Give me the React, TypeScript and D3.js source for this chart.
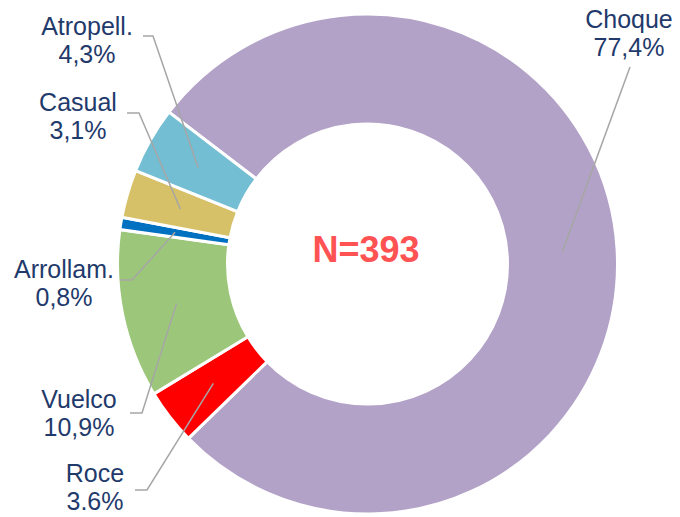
import React from "react";
import { pie, arc } from "d3";

const categories = ["Choque", "Roce", "Vuelco", "Arrollam.", "Casual", "Atropell."];
const shares = [77.4, 3.6, 10.9, 0.8, 3.1, 4.3];
const shareLabels = ["77,4%", "3.6%", "10,9%", "0,8%", "3,1%", "4,3%"];
const colors = ["#B3A2C7", "#FF0000", "#9CC77B", "#0070C0", "#D6C068", "#73BED3"];
const totalN = 393;

// label anchor (text centre, first baseline) and leader-line start, per slice
const labelLayout = [
  { x: 629, y: 28, lx: 630, ly: 67, elbow: 0 },
  { x: 95, y: 482, lx: 135, ly: 490, elbow: 12 },
  { x: 79, y: 408, lx: 130, ly: 413, elbow: 12 },
  { x: 64, y: 278, lx: 120, ly: 280, elbow: 12 },
  { x: 78, y: 111, lx: 127, ly: 113, elbow: 12 },
  { x: 87, y: 35, lx: 143, ly: 36, elbow: 10 },
];

const width = 680;
const height = 517;
const cx = 367.5;
const cy = 264;
const outerR = 250;
const innerR = 140;
const startDeg = -52.6;

const App = () => {
  const slices = pie<number>()
    .sort(null)
    .startAngle((startDeg * Math.PI) / 180)
    .endAngle((startDeg * Math.PI) / 180 + 2 * Math.PI)(shares);

  const arcGen = arc<any>().innerRadius(innerR).outerRadius(outerR);

  return (
    <svg
      width={width}
      height={height}
      style={{ position: "absolute", left: 0, top: 0, display: "block" }}
      fontFamily="'Liberation Sans', Arial, sans-serif"
    >
      <rect width={width} height={height} fill="#ffffff" />
      <g transform={`translate(${cx},${cy})`}>
        {slices.map((s, i) => (
          <path key={categories[i]} d={arcGen(s) || ""} fill={colors[i]} stroke="#ffffff" strokeWidth={3} />
        ))}
      </g>
      {slices.map((s, i) => {
        const [px, py] = arcGen.centroid(s);
        const L = labelLayout[i];
        const pts = L.elbow
          ? `${L.lx},${L.ly} ${L.lx + L.elbow},${L.ly} ${cx + px},${cy + py}`
          : `${L.lx},${L.ly} ${cx + px},${cy + py}`;
        return (
          <polyline key={"l" + i} points={pts} fill="none" stroke="#A6A6A6" strokeWidth={1.5} />
        );
      })}
      {categories.map((c, i) => {
        const L = labelLayout[i];
        return (
          <text key={"t" + i} x={L.x} y={L.y} textAnchor="middle" fontSize={25} fill="#1F3A6B">
            <tspan x={L.x}>{c}</tspan>
            <tspan x={L.x} dy={28}>{shareLabels[i]}</tspan>
          </text>
        );
      })}
      <text x={366} y={262} textAnchor="middle" fontSize={36} fontWeight="bold" fill="#FF5353">
        {`N=${totalN}`}
      </text>
    </svg>
  );
};

export default App;
